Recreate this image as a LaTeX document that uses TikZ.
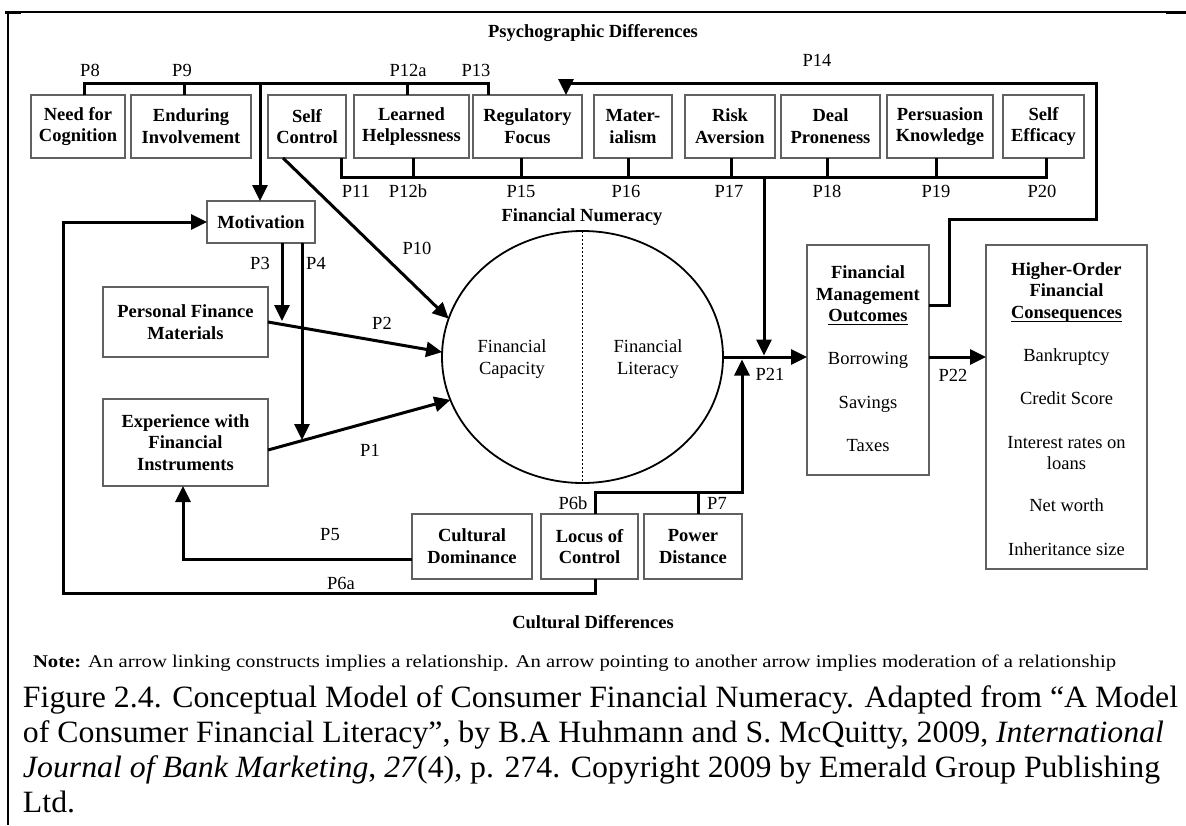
\documentclass[tikz,border=0pt]{standalone}
\usepackage{fontspec}
\usepackage{graphicx}
\setmainfont{Liberation Serif}
\usetikzlibrary{arrows.meta,shapes.geometric}
\definecolor{boxgray}{gray}{0.38}

\begin{document}
\begin{tikzpicture}[x=1pt,y=-1pt,
  every node/.style={inner sep=0pt, outer sep=0pt},
  cbox/.style={draw=boxgray, line width=1.3pt, align=center,
               font=\fontsize{18.5}{21.7}\selectfont\bfseries},
  lbl/.style={font=\fontsize{18.5}{21.7}\selectfont},
  head/.style={font=\fontsize{18.5}{21.7}\selectfont\bfseries},
  ln/.style={anchor=base, font=\fontsize{18.5}{21.7}\selectfont},
  bln/.style={anchor=base, font=\fontsize{18.5}{21.7}\selectfont\bfseries},
  capline/.style={anchor=base west},
  link/.style={line width=3pt},
  arr/.style={line width=3pt, -{Triangle[length=16pt,width=15pt]}},
  uline/.style={line width=1.3pt},
]
\useasboundingbox (0,0) rectangle (1186,825);

% page frame
\draw[line width=1.4pt] (8,12) -- (1166,12);
\draw[line width=3pt] (5,12) -- (21,12);
\draw[line width=3pt] (1166,12.5) -- (1186,12.5);
\draw[line width=2pt] (8,12) -- (8,825);

% headings
\node[head] (psy) at (593,33) {Psychographic Differences};
\node[head] (cul) at (593,622) {Cultural Differences};
\node[head] (fnh) at (582,217) {Financial Numeracy};

% psychographic constructs
\node[cbox, minimum width=94pt,  minimum height=63pt] (nfc) at (78,126.5)   {Need for\\Cognition};
\node[cbox, minimum width=120pt, minimum height=63pt] (eni) at (191,126.5)  {Enduring\\Involvement};
\node[cbox, minimum width=78pt,  minimum height=63pt] (sfc) at (307,126.5)  {Self\\Control};
\node[cbox, minimum width=115pt, minimum height=63pt] (lhp) at (411.5,126.5) {Learned\\Helplessness};
\node[cbox, minimum width=109pt, minimum height=63pt] (rgf) at (527.5,126.5) {Regulatory\\Focus};
\node[cbox, minimum width=78pt,  minimum height=63pt] (mat) at (633,126.5)  {Mater-\\ialism};
\node[cbox, minimum width=90pt,  minimum height=63pt] (rsk) at (730,126.5)  {Risk\\Aversion};
\node[cbox, minimum width=99pt,  minimum height=63pt] (dpr) at (830.5,126.5) {Deal\\Proneness};
\node[cbox, minimum width=106pt, minimum height=63pt] (pkn) at (940,126.5)  {Persuasion\\Knowledge};
\node[cbox, minimum width=81pt,  minimum height=63pt] (sef) at (1043.5,126.5) {Self\\Efficacy};

% antecedents
\node[cbox, minimum width=108pt, minimum height=42pt] (mot) at (261,222)   {Motivation};
\node[cbox, minimum width=165pt, minimum height=70pt] (pfm) at (185.5,322) {Personal Finance\\Materials};
\node[cbox, minimum width=165pt, minimum height=87pt] (exp) at (185.5,442.5) {Experience with\\Financial\\Instruments};

% cultural constructs
\node[cbox, minimum width=120pt, minimum height=65pt] (cdm) at (472,546.5)   {Cultural\\Dominance};
\node[cbox, minimum width=97pt,  minimum height=65pt] (loc) at (589.5,546.5) {Locus of\\Control};
\node[cbox, minimum width=98pt,  minimum height=65pt] (pwd) at (693,546.5)   {Power\\Distance};

% financial numeracy
\node[draw, ellipse, line width=1.8pt, minimum width=281pt, minimum height=252pt] (num) at (582.5,357) {};
\draw[line width=1.5pt, dash pattern=on 2pt off 2pt] (num.north) -- (num.south);
\node[lbl, align=center] (cap) at (512,359) {Financial\\Capacity};
\node[lbl, align=center] (lit) at (648,359) {Financial\\Literacy};

% outcomes
\node[draw=boxgray, line width=1.3pt, minimum width=122pt, minimum height=230pt] (fmo) at (868,360) {};
\node[bln] (fmo1) at (868,278.3) {Financial};
\node[bln] (fmo2) at (868,300.3) {Management};
\node[bln] (fmo3) at (868,321.3) {Outcomes};
\draw[uline] ([yshift=-3.2pt]fmo3.base west) -- ([yshift=-3.2pt]fmo3.base east);
\node[ln] (fmo4) at (868,364.3) {Borrowing};
\node[ln] (fmo5) at (868,408.3) {Savings};
\node[ln] (fmo6) at (868,451.3) {Taxes};

\node[draw=boxgray, line width=1.3pt, minimum width=161pt, minimum height=324pt] (hoc) at (1066.5,407) {};
\node[bln] (hoc1) at (1066.5,275.3) {Higher-Order};
\node[bln] (hoc2) at (1066.5,296.3) {Financial};
\node[bln] (hoc3) at (1066.5,318.3) {Consequences};
\draw[uline] ([yshift=-3.2pt]hoc3.base west) -- ([yshift=-3.2pt]hoc3.base east);
\node[ln] (hoc4) at (1066.5,361.3) {Bankruptcy};
\node[ln] (hoc5) at (1066.5,404.3) {Credit Score};
\node[ln] (hoc6) at (1066.5,448.3) {Interest rates on};
\node[ln] (hoc7) at (1066.5,469.3) {loans};
\node[ln] (hoc8) at (1066.5,511.3) {Net worth};
\node[ln] (hoc9) at (1066.5,555.3) {Inheritance size};

% upper bracket (P8, P9, P12a, P13) feeding Motivation
\coordinate (ta) at (84,83);
\coordinate (tb) at (488,83);
\draw[link] (ta |- nfc.north) -- (ta) -- (tb) -- (tb |- rgf.north);
\draw[link] (184,83) -- (184,83 |- eni.north);
\draw[link] (407,83) -- (407,83 |- lhp.north);
\draw[arr] (260,83) -- (260,83 |- mot.north);

% lower bracket (P11 ... P20) moderating P21
\coordinate (ba) at (341,177);
\coordinate (bb) at (1046,177);
\draw[link] (ba |- sfc.south) -- (ba) -- (bb) -- (bb |- sef.south);
\foreach \xx/\nn in {413/lhp,521/rgf,628/mat,731/rsk,827/dpr,936/pkn}
  \draw[link] (\xx,177) -- (\xx,177 |- \nn.south);
\draw[arr] (764,177) -- (764,355.5);

% feedback P14
\draw[arr] (fmo.east |- 0,305) -- (949,305) -- (949,219) -- (1096,219) -- (1096,83)
  -- (566,83) -- (566,83 |- rgf.north);

% direct effects
\draw[arr] (283,0 |- sfc.south) -- (num.164);
\draw[arr] (pfm.east) -- (num.178);
\draw[arr] (exp.east |- 0,450) -- (num.198);
\draw[arr] (282,0 |- mot.south) -- (282,321);
\draw[arr] (302,0 |- mot.south) -- (302,440);
\draw[arr] (num.east) -- (num.east -| fmo.west);
\draw[arr] (fmo.east |- num.east) -- (num.east -| hoc.west);

% cultural links
\draw[arr] (cdm.west |- 0,559) -- (183,559) -- (183,0 |- exp.south);
\draw[arr] (595,0 |- loc.south) -- (595,593) -- (63,593) -- (63,0 |- mot.west) -- (mot.west);
\draw[arr] (595,0 |- loc.north) -- (595,492) -- (742,492) -- (742,359.5);
\draw[link] (698,0 |- pwd.north) -- (698,492);

% path labels
\node[lbl] (lp8)   at (90,70)   {P8};
\node[lbl] (lp9)   at (182,70)  {P9};
\node[lbl] (lp12a) at (408,70)  {P12a};
\node[lbl] (lp13)  at (476,70)  {P13};
\node[lbl] (lp14)  at (817,60)  {P14};
\node[lbl] (lp11)  at (356,191) {P11};
\node[lbl] (lp12b) at (408,191) {P12b};
\node[lbl] (lp15)  at (521,191) {P15};
\node[lbl] (lp16)  at (626,191) {P16};
\node[lbl] (lp17)  at (729,191) {P17};
\node[lbl] (lp18)  at (827,191) {P18};
\node[lbl] (lp19)  at (936,191) {P19};
\node[lbl] (lp20)  at (1042,191) {P20};
\node[lbl] (lp10)  at (417,248) {P10};
\node[lbl] (lp3)   at (260,263) {P3};
\node[lbl] (lp4)   at (316,263) {P4};
\node[lbl] (lp2)   at (382,323) {P2};
\node[lbl] (lp1)   at (370,450) {P1};
\node[lbl] (lp21)  at (770,374) {P21};
\node[lbl] (lp22)  at (953,375) {P22};
\node[lbl] (lp6b)  at (573,503) {P6b};
\node[lbl] (lp7)   at (717,503) {P7};
\node[lbl] (lp5)   at (330,535) {P5};
\node[lbl] (lp6a)  at (341,583) {P6a};

% note and caption
\node[capline] (note) at (33,667) {\scalebox{1.157}[1]{\fontsize{17.9}{21}\selectfont
  \textbf{Note:} An arrow linking constructs implies a relationship. An arrow pointing to another arrow implies moderation of a relationship}};
\node[capline] (cap1) at (23,707) {\scalebox{1.026}[1]{\fontsize{31}{35}\selectfont
  Figure 2.4. Conceptual Model of Consumer Financial Numeracy. Adapted from “A Model}};
\node[capline] (cap2) at (23,742) {\scalebox{1.026}[1]{\fontsize{31}{35}\selectfont
  of Consumer Financial Literacy”, by B.A Huhmann and S. McQuitty, 2009, \textit{International}}};
\node[capline] (cap3) at (23,777) {\scalebox{1.026}[1]{\fontsize{31}{35}\selectfont
  \textit{Journal of Bank Marketing}, \textit{27}(4), p. 274. Copyright 2009 by Emerald Group Publishing}};
\node[capline] (cap4) at (23,812) {\scalebox{1.026}[1]{\fontsize{31}{35}\selectfont Ltd.}};
\end{tikzpicture}
\end{document}
